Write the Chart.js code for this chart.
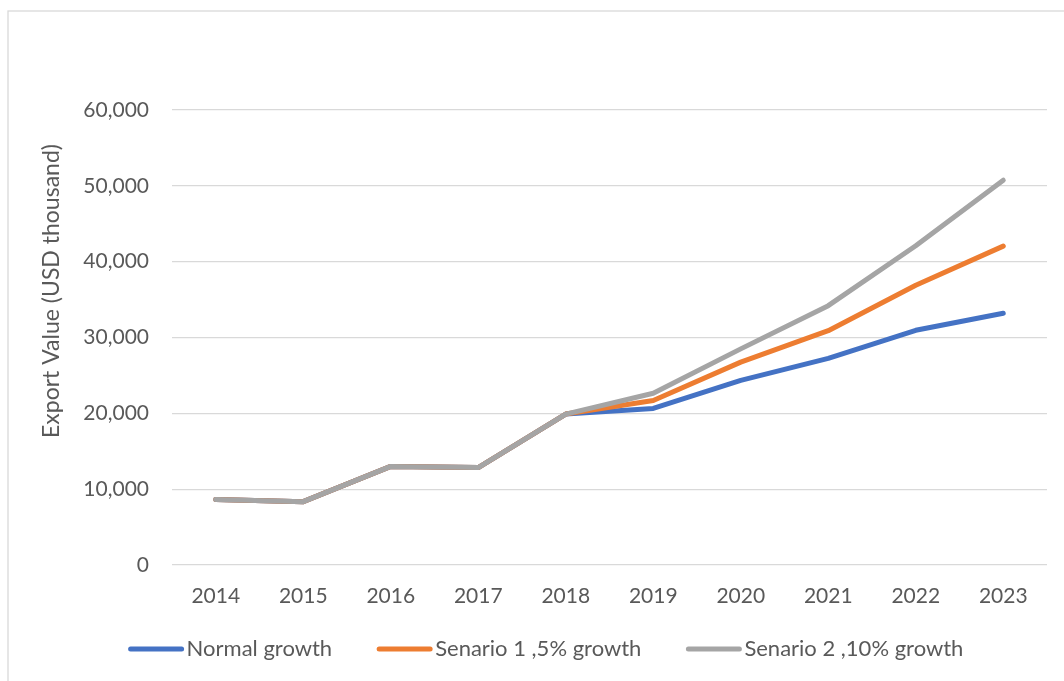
<!DOCTYPE html>
<html>
<head>
<meta charset="utf-8">
<script src="https://cdn.jsdelivr.net/npm/chart.js@4/dist/chart.umd.min.js"></script>
<style>
  html, body { margin: 0; padding: 0; background: #fff; }
  #chart { display: block; }
</style>
</head>
<body>
<canvas id="chart" width="1064" height="681"></canvas>
<script>
const years = ['2014', '2015', '2016', '2017', '2018', '2019', '2020', '2021', '2022', '2023'];
const normalGrowth = [8650, 8350, 13000, 12850, 19900, 20650, 24350, 27250, 30950, 33200];
const scenario5 = [8650, 8350, 13000, 12850, 19900, 21700, 26750, 30900, 36900, 42050];
const scenario10 = [8650, 8350, 13000, 12850, 19900, 22650, 28500, 34200, 42100, 50750];
const yTicks = [0, 10000, 20000, 30000, 40000, 50000, 60000];

const FONT = 'Lato, "Open Sans", sans-serif';
const TEXT = '#595959';
const GRID = '#d9d9d9';

// frame, rotated axis title and the legend row
const decorations = {
  id: 'decorations',
  beforeDraw(chart) {
    const ctx = chart.ctx;
    ctx.save();
    ctx.strokeStyle = GRID;
    ctx.lineWidth = 1.3;
    ctx.strokeRect(8, 11, 1100, 720);
    ctx.restore();
  },
  afterDraw(chart) {
    const ctx = chart.ctx;
    ctx.save();
    ctx.fillStyle = TEXT;
    ctx.font = '23px ' + FONT;
    ctx.textAlign = 'center';
    ctx.textBaseline = 'middle';
    ctx.translate(52, 291);
    ctx.rotate(-Math.PI / 2);
    ctx.fillText('Export Value (USD thousand)', 0, 0);
    ctx.restore();

    ctx.save();
    ctx.font = '22px ' + FONT;
    ctx.textBaseline = 'middle';
    const sample = 55, gap = 3, spacing = 45;
    const items = chart.data.datasets.map(ds => ({
      label: ds.label, color: ds.borderColor, w: ctx.measureText(ds.label).width
    }));
    const total = items.reduce((s, it) => s + sample + gap + it.w, 0) + spacing * (items.length - 1);
    let x = 546 - total / 2;
    const y = 649;
    for (const it of items) {
      ctx.strokeStyle = it.color;
      ctx.lineWidth = 5;
      ctx.lineCap = 'round';
      ctx.beginPath();
      ctx.moveTo(x + 2, y);
      ctx.lineTo(x + sample - 2, y);
      ctx.stroke();
      ctx.fillStyle = TEXT;
      ctx.fillText(it.label, x + sample + gap, y);
      x += sample + gap + it.w + spacing;
    }
    ctx.restore();
  }
};

function series(label, data, color, order) {
  return {
    label, data, order,
    borderColor: color,
    backgroundColor: color,
    borderWidth: 5,
    borderCapStyle: 'round',
    borderJoinStyle: 'round',
    pointRadius: 0,
    pointHoverRadius: 0,
    tension: 0,
    fill: false
  };
}

new Chart(document.getElementById('chart'), {
  type: 'line',
  data: {
    labels: years,
    datasets: [
      series('Normal growth', normalGrowth, '#4472c4', 3),
      series('Senario 1 ,5% growth', scenario5, '#ed7d31', 2),
      series('Senario 2 ,10% growth', scenario10, '#a5a5a5', 1)
    ]
  },
  plugins: [decorations],
  options: {
    responsive: false,
    devicePixelRatio: 1,
    animation: false,
    layout: { padding: { top: 110, right: 17, left: 0, bottom: 0 } },
    plugins: {
      legend: { display: false },
      tooltip: { enabled: false },
      title: { display: false }
    },
    scales: {
      x: {
        offset: true,
        grid: { display: false, drawTicks: false },
        border: { display: false },
        ticks: {
          color: TEXT,
          font: { family: FONT, size: 21 },
          padding: 19,
          maxRotation: 0,
          autoSkip: false
        },
        afterFit(scale) { scale.height = 116; }
      },
      y: {
        min: 0,
        max: 60000,
        grid: { color: GRID, lineWidth: 1.3, drawTicks: false },
        border: { display: false },
        afterBuildTicks(scale) { scale.ticks = yTicks.map(v => ({ value: v })); },
        ticks: {
          color: TEXT,
          font: { family: FONT, size: 21 },
          padding: 23,
          callback: v => v.toLocaleString('en-US')
        },
        afterFit(scale) { scale.width = 172; }
      }
    }
  }
});
</script>
</body>
</html>
